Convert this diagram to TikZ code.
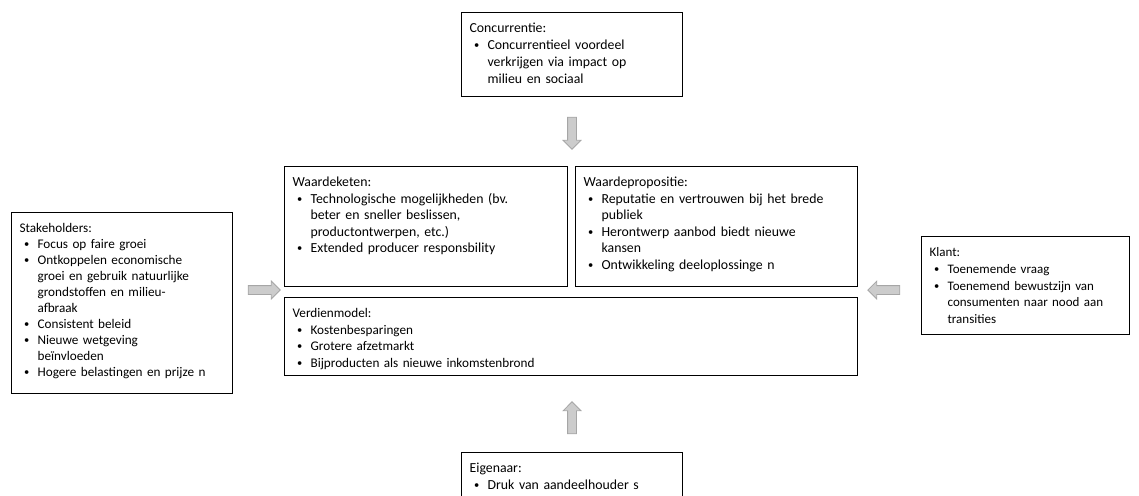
\documentclass[tikz,border=0pt]{standalone}
\usepackage{fontspec}
\setmainfont{Carlito}
\usetikzlibrary{shapes.arrows}

% bullet line with hanging indent
\newcommand{\itm}{\par\noindent\hangindent=18pt\hangafter=1%
  \makebox[18pt][l]{\hspace{4.5pt}\raisebox{0.8pt}{\fontsize{10.5}{10.5}\selectfont\textbullet}}}

\tikzset{
  infobox/.style={draw, line width=1.2pt, anchor=north west, align=left,
    inner xsep=8pt, inner ysep=0pt, text height=20pt,
    font=\fontsize{13.8}{16.5}\selectfont},
  blockarrow/.style={single arrow, draw=black!35, fill=black!20, line width=0.8pt,
    inner sep=4pt, minimum height=32pt, single arrow head extend=4.5pt}
}

\begin{document}
\begin{tikzpicture}[x=1pt, y=-1pt]

\clip (0,0) rectangle (1139,495);

% boxes
\node[infobox, text width=205pt, text depth=64pt, font=\fontsize{13.8}{17}\selectfont] (conc) at (461,12)
  {Concurrentie:\itm Concurrentieel voordeel\newline verkrijgen via impact op\newline milieu en sociaal\par};
\node[infobox, text width=205pt, text depth=161pt, font=\fontsize{13.2}{16}\selectfont] (stake) at (11,212)
  {Stakeholders:\itm Focus op faire groei\itm Ontkoppelen economische\newline groei en gebruik natuurlijke\newline grondstoffen en milieu-\newline afbraak\itm Consistent beleid\itm Nieuwe wetgeving\newline beïnvloeden\itm Hogere belastingen en prijze n\par};
\node[infobox, text width=267pt, text depth=100pt] (keten) at (284,166)
  {Waardeketen:\itm Technologische mogelijkheden (bv.\newline beter en sneller beslissen,\newline productontwerpen, etc.)\itm Extended producer responsbility\par};
\node[infobox, text width=266pt, text depth=100pt] (prop) at (575,166)
  {Waardepropositie:\itm Reputatie en vertrouwen bij het brede\newline publiek\itm Herontwerp aanbod biedt nieuwe\newline kansen\itm Ontwikkeling deeloplossinge n\par};
\node[infobox, text width=557pt, text depth=58pt, font=\fontsize{13.2}{16.5}\selectfont] (verdien) at (284,297)
  {Verdienmodel:\itm Kostenbesparingen\itm Grotere afzetmarkt\itm Bijproducten als nieuwe inkomstenbrond\par};
\node[infobox, text width=192pt, text depth=78pt, font=\fontsize{13}{16.7}\selectfont] (klant) at (921,236)
  {Klant:\itm Toenemende vraag\itm Toenemend bewustzijn van\newline consumenten naar nood aan\newline transities\par};
\node[infobox, text width=205pt, text depth=50pt] (eigen) at (461,452)
  {Eigenaar:\itm Druk van aandeelhouder s\par};

% Arrows
\node[blockarrow, shape border rotate=270] (arrConc) at (572,131) {};
\node[blockarrow, shape border rotate=90] (arrEigen) at (572,420) {};
\node[blockarrow] (arrStake) at (262,290) {};
\node[blockarrow, shape border rotate=180] (arrKlant) at (886,290) {};

\end{tikzpicture}
\end{document}
